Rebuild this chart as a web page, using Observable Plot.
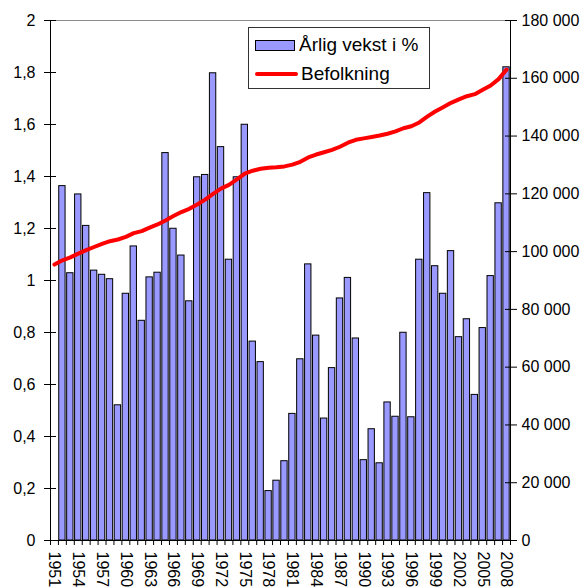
<!DOCTYPE html>
<html><head><meta charset="utf-8">
<script src="https://cdn.jsdelivr.net/npm/d3@7"></script>
<script src="https://cdn.jsdelivr.net/npm/@observablehq/plot@0.6"></script>
<style>
body{margin:0;background:#fff;}
#wrap{position:relative;width:580px;height:587px;font-family:"Liberation Sans",Arial,sans-serif;}
#legend{position:absolute;left:248px;top:27px;width:180px;height:60px;border:1px solid #333;background:#fff;box-sizing:content-box;}
.row{position:absolute;left:6px;display:flex;align-items:center;font-size:19px;color:#000;white-space:nowrap;}
.sw{display:inline-block;width:38px;height:9px;background:#9999ff;border:1px solid #000;margin-right:4px;}
.ln{display:inline-block;width:43px;height:4px;background:#ff0000;border-radius:2px;margin-right:3px;}
</style></head>
<body><div id="wrap"></div>
<script>
// categories
const years = [1951,1952,1953,1954,1955,1956,1957,1958,1959,1960,1961,1962,1963,1964,1965,1966,1967,1968,1969,1970,
  1971,1972,1973,1974,1975,1976,1977,1978,1979,1980,1981,1982,1983,1984,1985,1986,1987,1988,1989,1990,
  1991,1992,1993,1994,1995,1996,1997,1998,1999,2000,2001,2002,2003,2004,2005,2006,2007,2008];
// Årlig vekst i % (1951 has no bar)
const growthYears = years.slice(1);
const growth = [1.363,1.028,1.331,1.21,1.038,1.022,1.005,0.52,0.949,1.131,0.845,1.012,1.03,1.49,1.199,
  1.096,0.92,1.397,1.406,1.797,1.513,1.08,1.397,1.599,0.765,0.686,0.19,0.23,0.305,0.487,0.697,1.062,0.788,0.469,
  0.663,0.931,1.01,0.777,0.309,0.428,0.297,0.531,0.476,0.799,0.474,1.08,1.336,1.055,0.949,1.113,0.782,0.851,0.56,
  0.817,1.017,1.297,1.82];
// Befolkning
const population = [95500,97000,98000,99300,100500,101600,102700,103600,104200,105100,106400,107100,108300,109400,
  110800,112300,113700,114800,116300,118000,120000,121800,123100,125000,127000,128000,128700,129000,129200,129500,
  130100,131100,132600,133600,134400,135200,136300,137700,138700,139200,139700,140200,140800,141600,142700,143400,
  144700,146700,148500,150000,151500,152700,153800,154500,156000,157500,159700,163000];
// tick labels
const leftTicks = [0,0.2,0.4,0.6,0.8,1,1.2,1.4,1.6,1.8,2];
const leftTickLabels = ["0","0,2","0,4","0,6","0,8","1","1,2","1,4","1,6","1,8","2"];
const rightTicks = [0,20000,40000,60000,80000,100000,120000,140000,160000,180000];
const rightTickLabels = ["0","20 000","40 000","60 000","80 000","100 000","120 000","140 000","160 000","180 000"];
const xLabelYears = [1951,1954,1957,1960,1963,1966,1969,1972,1975,1978,1981,1984,1987,1990,1993,1996,1999,2002,2005,2008];

const yMax = 2, popMax = 180000;
const k = popMax / yMax;
const bars = growthYears.map((y, i) => ({year: y, g: growth[i]}));
const pop = years.map((y, i) => ({year: y, p: population[i]}));
const boundaries = [years[0] - 0.5, ...years.map(y => y + 0.5)];
const lookup = (vals, labels) => d => { const i = vals.findIndex(v => Math.abs(v - d) < 1e-6); return i < 0 ? "" : labels[i]; };

const chart = Plot.plot({
  width: 580, height: 587,
  marginLeft: 50, marginRight: 70, marginTop: 20, marginBottom: 47,
  style: {fontFamily: "'Liberation Sans', Arial, sans-serif", fontSize: "16px", color: "#000", background: "#fff"},
  x: {type: "linear", domain: [years[0] - 0.5, years[years.length - 1] + 0.5]},
  y: {domain: [0, yMax]},
  marks: [
    Plot.rect(bars, {x1: d => d.year - 0.4, x2: d => d.year + 0.4, y1: 0, y2: "g", fill: "#9999ff", stroke: "#000", strokeWidth: 1}),
    Plot.line(pop, {x: "year", y: d => d.p / k, stroke: "#ff0000", strokeWidth: 4, strokeLinejoin: "round", strokeLinecap: "round"}),
    Plot.frame({stroke: "#000"}),
    Plot.ruleY([yMax], {stroke: "#8c8c8c"}),
    // left axis
    Plot.axisY({anchor: "left", ticks: leftTicks, tickSize: 12, insetLeft: 6, tickFormat: () => "", label: null}),
    Plot.axisY({anchor: "left", ticks: leftTicks, tickSize: 0, tickPadding: 15, tickFormat: lookup(leftTicks, leftTickLabels), label: null, fontSize: 16}),
    // right axis
    Plot.axisY({anchor: "right", ticks: rightTicks.map(v => v / k), tickSize: 12, insetRight: 6, tickFormat: () => "", label: null}),
    Plot.axisY({anchor: "right", ticks: rightTicks.map(v => v / k), tickSize: 0, tickPadding: 11, tickFormat: lookup(rightTicks.map(v => v / k), rightTickLabels), label: null, fontSize: 16}),
    // x axis
    Plot.axisX({ticks: boundaries, tickSize: 5, tickFormat: () => "", label: null}),
    Plot.axisX({ticks: xLabelYears, tickSize: 0, tickPadding: 11, tickRotate: 90, tickFormat: d => String(d), label: null, fontSize: 16})
  ]
});
const wrap = document.getElementById("wrap");
wrap.appendChild(chart);
const leg = document.createElement("div");
leg.id = "legend";
leg.innerHTML = `<div class="row" style="top:6px"><span class="sw"></span>Årlig vekst i %</div>
<div class="row" style="top:35px"><span class="ln"></span>Befolkning</div>`;
wrap.appendChild(leg);
</script>
</body></html>
